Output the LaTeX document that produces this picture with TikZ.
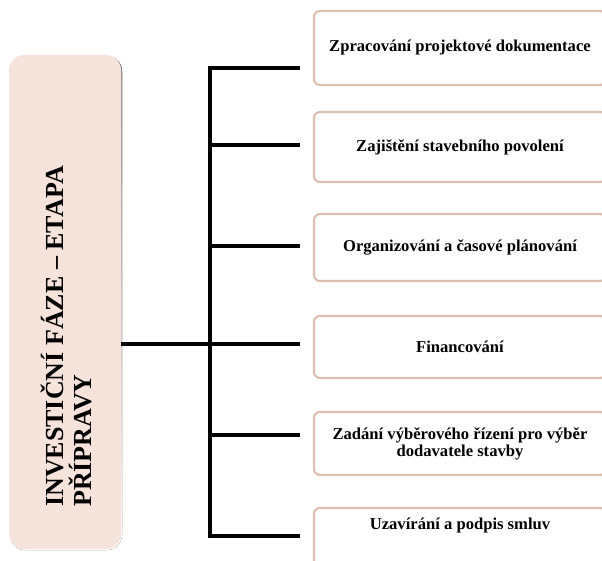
\documentclass[tikz,border=0pt]{standalone}
\usepackage{fontspec}
\setmainfont{Liberation Serif}
\begin{document}
\begin{tikzpicture}[x=1pt,y=-1pt,
  phase/.style={fill=phasefill, rounded corners=15pt, minimum width=112pt,
    minimum height=494pt, inner sep=0pt},
  stepbox/.style={draw=boxline, line width=2.2pt, fill=white, rounded corners=6pt,
    minimum width=292pt, inner sep=0pt, align=center,
    font=\fontsize{16.6}{17}\selectfont\bfseries},
  steptext/.style={inner sep=0pt, align=center,
    font=\fontsize{16.6}{17}\selectfont\bfseries},
  wire/.style={line width=4pt, black}]
\definecolor{phasefill}{HTML}{F6E3DC}
\definecolor{boxline}{HTML}{DDBFB2}
\definecolor{shade}{HTML}{E2DAD6}
\useasboundingbox (0,0) rectangle (602,561);
\clip (0,0) rectangle (602,561);

% phase block on the left, with a faint drop shadow
\fill[shade, rounded corners=15pt] (10,56) rectangle (122,550);
\node[phase] (phase) at (65,302) {};
\node[rotate=90, anchor=base west, inner sep=0pt, align=left,
  font=\fontsize{26}{28}\selectfont\bfseries] (title) at (91,507)
  {INVESTIČNÍ FÁZE – ETAPA\\PŘÍPRAVY};

% step boxes on the right
\node[stepbox, minimum height=74pt] (s1) at (460,48)
  {Zpracování projektové dokumentace};
\node[stepbox, minimum height=70pt] (s2) at (460,147)
  {Zajištění stavebního povolení};
\node[stepbox, minimum height=67pt] (s3) at (460,247.5)
  {Organizování a časové plánování};
\node[stepbox, minimum height=62pt] (s4) at (460,347)
  {Financování};
\node[stepbox, minimum height=63pt] (s5) at (460,443.5)
  {Zadání výběrového řízení pro výběr\\dodavatele stavby};
\node[stepbox, minimum height=66pt] (s6) at (460,541) {};
\node[steptext] (s6t) at (460,525) {Uzavírání a podpis smluv};

% bus and branch ends
\coordinate (j1) at (210,68);
\coordinate (j2) at (210,145);
\coordinate (j3) at (210,246);
\coordinate (j4) at (210,344);
\coordinate (j5) at (210,435);
\coordinate (j6) at (210,536);
\coordinate (e1) at (300,68);
\coordinate (e2) at (300,145);
\coordinate (e3) at (300,246);
\coordinate (e4) at (300,344);
\coordinate (e5) at (300,435);
\coordinate (e6) at (300,536);

\draw[wire] (e1) -- (j1) -- (j6) -- (e6);
\draw[wire] (j2) -- (e2);
\draw[wire] (j3) -- (e3);
\draw[wire] (j4) -- (e4);
\draw[wire] (j5) -- (e5);
\draw[wire] (phase.east |- j4) -- (j4);
\end{tikzpicture}
\end{document}
